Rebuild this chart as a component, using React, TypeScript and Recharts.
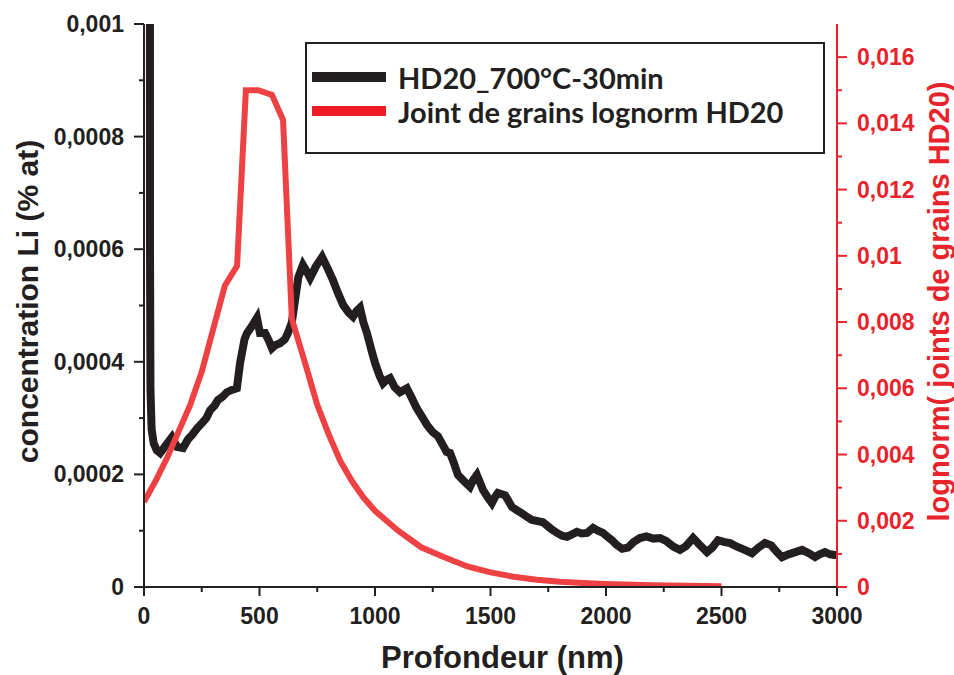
import { LineChart, Line, XAxis, YAxis, Legend } from 'recharts';

// black curve: measured Li concentration (left axis)
const depthConc = [
  24, 26, 28, 33, 42, 55, 70, 95, 121, 143, 169, 190, 208, 230, 251, 270, 286, 305, 320, 340,
  359, 380, 402, 416, 435, 446, 465, 489, 502, 524, 540, 554, 570, 589, 610, 623, 640, 654, 668, 688,
  705, 719, 745, 771, 795, 818, 840, 862, 885, 905, 920, 935, 950, 965, 985, 1000, 1020, 1035, 1050, 1065,
  1085, 1108, 1125, 1138, 1160, 1180, 1200, 1225, 1250, 1272, 1294, 1310, 1325, 1340, 1359, 1385, 1411, 1425, 1441, 1455,
  1468, 1490, 1506, 1520, 1532, 1563, 1593, 1615, 1636, 1660, 1680, 1705, 1727, 1760, 1788, 1810, 1831, 1855, 1874, 1895,
  1918, 1944, 1965, 1987, 2010, 2026, 2045, 2070, 2095, 2120, 2147, 2175, 2205, 2234, 2260, 2290, 2320, 2345, 2377, 2405,
  2437, 2460, 2485, 2510, 2537, 2565, 2600, 2632, 2660, 2688, 2715, 2740, 2762, 2790, 2820, 2849, 2878, 2905, 2925, 2948,
  2970, 2991, 3000,
];
const conc = [
  0.004, 0.0006, 0.00035, 0.00028, 0.000255, 0.000243, 0.000238, 0.000252, 0.000266, 0.000249, 0.000247, 0.000262, 0.00027, 0.000282, 0.000291, 0.0003, 0.000314, 0.000322, 0.000332, 0.000338,
  0.000346, 0.00035, 0.000353, 0.000398, 0.00044, 0.000451, 0.000462, 0.000478, 0.000451, 0.000451, 0.000438, 0.000424, 0.00043, 0.000433, 0.00044, 0.000451, 0.00047, 0.00051, 0.00055, 0.000572,
  0.00056, 0.000549, 0.00057, 0.000586, 0.000566, 0.000545, 0.000522, 0.000501, 0.000488, 0.00048, 0.00049, 0.000496, 0.00047, 0.000451, 0.00042, 0.000398, 0.000375, 0.000362, 0.000368, 0.000371,
  0.000355, 0.000346, 0.00035, 0.000353, 0.000335, 0.000318, 0.000305, 0.000288, 0.000275, 0.000268, 0.000252, 0.00024, 0.000238, 0.000222, 0.000199, 0.000188, 0.000178, 0.00019, 0.000199, 0.000185,
  0.000172, 0.000158, 0.000149, 0.00016, 0.000167, 0.000163, 0.000142, 0.000136, 0.000131, 0.000124, 0.000119, 0.000117, 0.000115, 0.000104, 0.000096, 0.000091, 0.000089, 0.000094, 0.000098, 0.000095,
  0.000096, 0.000105, 0.0001, 0.000096, 0.000088, 0.000083, 0.000075, 0.000068, 0.00007, 0.00008, 0.000087, 0.00009, 0.000086, 0.000087, 0.000082, 0.000072, 0.000066, 0.000072, 0.000087, 0.000075,
  0.000062, 0.00007, 0.000083, 0.00008, 0.000078, 0.000072, 0.000066, 0.00006, 0.00007, 0.000078, 0.000074, 0.000062, 0.000053, 0.000058, 0.000062, 0.000066, 0.00006, 0.000053, 0.000058, 0.000062,
  0.000058, 0.000057, 0.000057,
];

// red curve: lognormal grain boundary fit (right axis)
const depthLog = [0, 50, 100, 150, 200, 250, 300, 350, 403, 441, 494, 554, 602, 640, 700, 750, 800, 850, 900, 950, 1000, 1100, 1200, 1300, 1400, 1500, 1600, 1700, 1800, 1900, 2000, 2200, 2500];
const lognorm = [0.00257, 0.0032, 0.0039, 0.0047, 0.0055, 0.0065, 0.0078, 0.0091, 0.0097, 0.015, 0.015, 0.01486, 0.0141, 0.0081, 0.0067, 0.0055, 0.0046, 0.0038, 0.0032, 0.0027, 0.0023, 0.0017, 0.0012, 0.0009, 0.00062, 0.00044, 0.00031, 0.00022, 0.00016, 0.00012, 0.00009, 0.00005, 0.00002];

const xMajor = [0, 500, 1000, 1500, 2000, 2500, 3000];
const xMinor = [250, 750, 1250, 1750, 2250, 2750];
const leftMajor = [0, 0.0002, 0.0004, 0.0006, 0.0008, 0.001];
const leftMinor = [0.0001, 0.0003, 0.0005, 0.0007, 0.0009];
const rightMajor = [0, 0.002, 0.004, 0.006, 0.008, 0.01, 0.012, 0.014, 0.016];
const rightMinor = [0.001, 0.003, 0.005, 0.007, 0.009, 0.011, 0.013, 0.015];

const blackData = depthConc.map((x, i) => ({ x, c: conc[i] }));
const redData = depthLog.map((x, i) => ({ x, g: lognorm[i] }));

const INK = '#231f20';
const RED = '#e8232b';
const LINE_RED = '#ee4143';
const FONT = "'Liberation Sans', Arial, sans-serif";

const fmt = (v: number) => String(v).replace('.', ',');
const sortNum = (a: number[]) => [...a].sort((p, q) => p - q);

const tickText = { fontFamily: FONT, fontWeight: 700, fontSize: 23 };

function leftTick(props: any) {
  const { x, y, payload } = props;
  const major = leftMajor.includes(payload.value);
  return (
    <g>
      <line x1={x} y1={y} x2={x - (major ? 10 : 5)} y2={y} stroke={INK} strokeWidth={2} />
      {major && (
        <text x={x - 20} y={y} textAnchor="end" dominantBaseline="central" fill={INK} style={tickText}>
          {fmt(payload.value)}
        </text>
      )}
    </g>
  );
}

function rightTick(props: any) {
  const { x, y, payload } = props;
  const major = rightMajor.includes(payload.value);
  return (
    <g>
      <line x1={x} y1={y} x2={x + (major ? 10 : 5)} y2={y} stroke={RED} strokeWidth={2} />
      {major && (
        <text x={x + 20} y={y} textAnchor="start" dominantBaseline="central" fill={RED} style={tickText}>
          {fmt(payload.value)}
        </text>
      )}
    </g>
  );
}

function bottomTick(props: any) {
  const { x, y, payload } = props;
  const major = xMajor.includes(payload.value);
  return (
    <g>
      <line x1={x} y1={y} x2={x} y2={y + (major ? 9 : 5)} stroke={INK} strokeWidth={2} />
      {major && (
        <text x={x} y={y + 29} textAnchor="middle" dominantBaseline="central" fill={INK} style={tickText}>
          {payload.value}
        </text>
      )}
    </g>
  );
}

function topTick(props: any) {
  const { x, y, payload } = props;
  const major = xMajor.includes(payload.value);
  return <line x1={x} y1={y} x2={x} y2={y + (major ? 9 : 5)} stroke={INK} strokeWidth={2} />;
}

function LegendBox() {
  const rows = [
    { name: 'HD20_700°C-30min', color: INK },
    { name: 'Joint de grains lognorm HD20', color: '#ed1c24' },
  ];
  return (
    <div
      style={{
        width: 516,
        height: 92,
        border: `2px solid ${INK}`,
        background: '#fff',
        boxSizing: 'content-box',
        paddingTop: 16,
      }}
    >
      {rows.map((r) => (
        <div key={r.name} style={{ display: 'flex', alignItems: 'center', height: 34 }}>
          <div style={{ width: 74, height: 10, background: r.color, marginLeft: 5, marginRight: 12 }} />
          <span style={{ fontFamily: 'Lato, sans-serif', fontWeight: 700, fontSize: 29, color: INK }}>{r.name}</span>
        </div>
      ))}
    </div>
  );
}

export default function App() {
  return (
    <div style={{ position: 'absolute', left: 0, top: 0, width: 954, height: 675, background: '#fff' }}>
      <LineChart width={954} height={675} margin={{ top: 24, right: 0, bottom: 0, left: 0 }}>
        <XAxis
          xAxisId="b"
          type="number"
          dataKey="x"
          domain={[0, 3000]}
          allowDataOverflow
          ticks={sortNum([...xMajor, ...xMinor])}
          interval={0}
          height={88}
          tickSize={0}
          tickMargin={0}
          tickLine={false}
          axisLine={{ stroke: INK, strokeWidth: 2 }}
          tick={bottomTick}
          label={{
            content: (p: any) => {
              const vb = p.viewBox;
              return (
                <text x={vb.x + vb.width / 2 + 12} y={vb.y + 70} textAnchor="middle" dominantBaseline="central" fill={INK} style={{ fontFamily: FONT, fontWeight: 700, fontSize: 31 }}>
                  Profondeur (nm)
                </text>
              );
            },
          }}
        />
        <XAxis
          xAxisId="t"
          orientation="top"
          type="number"
          dataKey="x"
          domain={[0, 3000]}
          allowDataOverflow
          ticks={sortNum([...xMajor, ...xMinor])}
          interval={0}
          height={0}
          tickSize={0}
          tickMargin={0}
          tickLine={false}
          axisLine={{ stroke: INK, strokeWidth: 2 }}
          tick={topTick}
        />
        <YAxis
          yAxisId="l"
          orientation="left"
          type="number"
          domain={[0, 0.001]}
          allowDataOverflow
          ticks={sortNum([...leftMajor, ...leftMinor])}
          interval={0}
          width={144}
          tickSize={0}
          tickMargin={0}
          tickLine={false}
          axisLine={{ stroke: INK, strokeWidth: 2 }}
          tick={leftTick}
          label={{
            content: (p: any) => {
              const vb = p.viewBox;
              const cx = vb.x + 27;
              const cy = vb.y + vb.height / 2 - 4;
              return (
                <text x={cx} y={cy} transform={`rotate(-90 ${cx} ${cy})`} textAnchor="middle" dominantBaseline="central" fill={INK} style={{ fontFamily: FONT, fontWeight: 700, fontSize: 30 }}>
                  concentration Li (% at)
                </text>
              );
            },
          }}
        />
        <YAxis
          yAxisId="r"
          orientation="right"
          type="number"
          domain={[0, 0.017]}
          allowDataOverflow
          ticks={sortNum([...rightMajor, ...rightMinor])}
          interval={0}
          width={117}
          tickSize={0}
          tickMargin={0}
          tickLine={false}
          axisLine={{ stroke: RED, strokeWidth: 2 }}
          tick={rightTick}
          label={{
            content: (p: any) => {
              const vb = p.viewBox;
              const cx = vb.x + 102;
              const cy = vb.y + vb.height / 2 - 4;
              return (
                <text x={cx} y={cy} transform={`rotate(-90 ${cx} ${cy})`} textAnchor="middle" dominantBaseline="central" fill={RED} style={{ fontFamily: FONT, fontWeight: 700, fontSize: 29 }}>
                  lognorm( joints de grains HD20)
                </text>
              );
            },
          }}
        />
        <Line
          xAxisId="b"
          yAxisId="l"
          data={blackData}
          dataKey="c"
          stroke={INK}
          strokeWidth={8}
          dot={false}
          isAnimationActive={false}
        />
        <Line
          xAxisId="b"
          yAxisId="r"
          data={redData}
          dataKey="g"
          stroke={LINE_RED}
          strokeWidth={6}
          dot={false}
          isAnimationActive={false}
        />
        <Legend
          layout="vertical"
          align="center"
          verticalAlign="middle"
          wrapperStyle={{ left: 305, top: 42, width: 520 }}
          content={() => <LegendBox />}
        />
      </LineChart>
    </div>
  );
}
